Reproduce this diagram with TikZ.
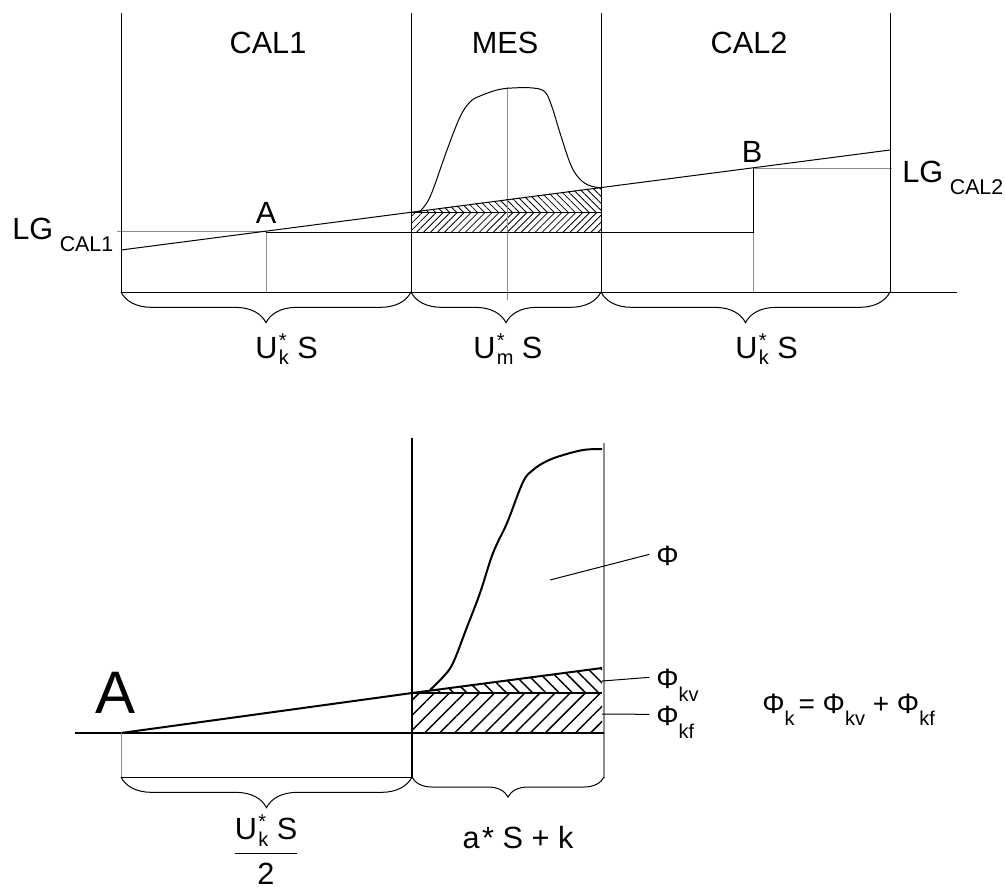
\documentclass[tikz,border=0pt]{standalone}
\usepackage{fontspec}
\setmainfont{Liberation Sans}
\usepackage{xcolor}
\usepackage{tikz}
\usetikzlibrary{decorations.pathreplacing,patterns.meta}
\definecolor{plotgray}{HTML}{8C8C8C}
\newcommand{\lowidx}[2]{\raisebox{#1}{\fontsize{15}{17}\selectfont #2}}
\newcommand{\ustar}[1]{U\kern1pt\makebox[0pt][l]{\raisebox{8pt}{\fontsize{15}{15}\selectfont *}}\raisebox{-5pt}{\fontsize{15}{15}\selectfont #1}}

\begin{document}
\begin{tikzpicture}[
  x=0.75pt,y=-0.75pt,
  font=\fontsize{23}{27}\selectfont,
  thinln/.style={line width=0.75pt},
  boldln/.style={line width=1.5pt},
  guide/.style={draw=plotgray,line width=0.75pt},
  ubrace/.style={decorate,decoration={brace,mirror,amplitude=#1},line width=0.75pt},
  hatchup/.style={pattern={Lines[angle=45,distance=3.7pt,line width=0.6pt]}},
  hatchdn/.style={pattern={Lines[angle=-45,distance=3.7pt,line width=0.6pt]}},
  bighatchup/.style={pattern={Lines[angle=45,distance=8pt,line width=1.1pt]}},
  bighatchdn/.style={pattern={Lines[angle=-45,distance=7pt,line width=1.1pt]}},
  lbl/.style={anchor=base,inner sep=0pt},
  phitxt/.style={font=\fontsize{21}{25}\selectfont,anchor=base west,inner sep=0pt}
]
\useasboundingbox (0,0) rectangle (1005,886);

\fill[hatchup] (411,212) rectangle (601,232);
\fill[hatchdn] (411,212) -- (601,187) -- (601,212) -- cycle;
\draw[thinln] (411,212) -- (601,212);
\draw[guide] (117,231) -- (266,231) -- (266,292);
\draw[guide] (753,232) -- (753,292);
\draw[guide] (753,168) -- (892,168);
\draw[guide] (507,87) -- (507,300);
\draw[thinln] (121,13) -- (121,292);
\draw[thinln] (411,13) -- (411,292);
\draw[thinln] (601,13) -- (601,292);
\draw[thinln] (890,13) -- (890,292);
\draw[thinln] (121,292) -- (957,292);
\draw[thinln] (121,250) -- (890,150);
\draw[thinln] (266,232) -- (753,232) -- (753,168);
\draw[thinln] plot[smooth,tension=0.6] coordinates {(419,212) (430,197) (447,150) (460,117) (470,102) (480,96) (497,90) (512,88) (533,88) (545,92) (552,107) (560,133) (570,163) (578,177) (588,185) (601,188)};
\draw[ubrace=23pt] (121,292) -- (411,292);
\draw[ubrace=23pt] (411,292) -- (601,292);
\draw[ubrace=23pt] (601,292) -- (890,292);

\node[lbl] (cal1) at (268,53) {CAL1};
\node[lbl] (mes) at (505,53) {MES};
\node[lbl] (cal2) at (749,53) {CAL2};
\node[lbl] (ptA) at (266,223) {A};
\node[lbl] (ptB) at (752,162) {B};
\node[lbl,anchor=base west] (lgcal1) at (12,239) {LG\hspace{5pt}\raisebox{-9pt}{\fontsize{16}{18}\selectfont CAL1}};
\node[lbl,anchor=base west] (lgcal2) at (902,182) {LG\hspace{5pt}\raisebox{-9pt}{\fontsize{16}{18}\selectfont CAL2}};
\node[lbl,anchor=base west] (uk1) at (255,358) {\ustar{k} S};
\node[lbl,anchor=base west] (um) at (473,358) {\ustar{m} S};
\node[lbl,anchor=base west] (uk2) at (735,358) {\ustar{k} S};

\fill[bighatchup] (412,693) rectangle (602,733);
\fill[bighatchdn] (412,693) -- (602,668) -- (602,693) -- cycle;
\draw[boldln] (412,693) -- (602,693);
\draw[boldln] (412,438) -- (412,777);
\draw[draw=plotgray,line width=1.5pt] (604,443) -- (604,778);
\draw[boldln] (75,733) -- (604,733);
\draw[boldln] (121,733) -- (412,693) -- (602,668);
\draw[guide] (121,733) -- (121,777);
\draw[thinln] (121,777) -- (412,777);
\draw[boldln] plot[smooth,tension=0.6] coordinates {(430,690) (443,677) (453,663) (467,627) (480,593) (493,553) (507,523) (523,482) (533,470) (545,462) (560,456) (583,450) (602,449)};
\draw[ubrace=23pt] (121,777) -- (412,777);
\draw[ubrace=15pt] (412,777) -- (604,777);

\node[lbl,font=\fontsize{45}{50}\selectfont] (bigA) at (116,713) {A};
\node[lbl] (frac) at (266,862) {$\displaystyle\frac{\mbox{\ustar{k} S}}{\mbox{2}}$};
\node[lbl] (aSk) at (518,848) {a\kern2pt* S + k};

\node[phitxt] (phi) at (656,565) {Φ};
\node[phitxt] (phikv) at (656,688) {Φ\lowidx{-10pt}{kv}};
\node[phitxt] (phikf) at (656,725) {Φ\lowidx{-10pt}{kf}};
\node[phitxt] (phisum) at (762,713) {Φ\lowidx{-9pt}{k}\kern3pt= Φ\lowidx{-9pt}{kv} + Φ\lowidx{-9pt}{kf}};

\coordinate (phiin) at (550,580);
\coordinate (kvin) at (602,681);
\coordinate (kfin) at (602,714);
\draw[thinln] (phiin) -- ([xshift=-5pt,yshift=8pt]phi.base west);
\draw[thinln] (kvin) -- ([xshift=-5pt,yshift=8pt]phikv.base west);
\draw[thinln] (kfin) -- ([xshift=-5pt,yshift=8pt]phikf.base west);
\end{tikzpicture}
\end{document}
